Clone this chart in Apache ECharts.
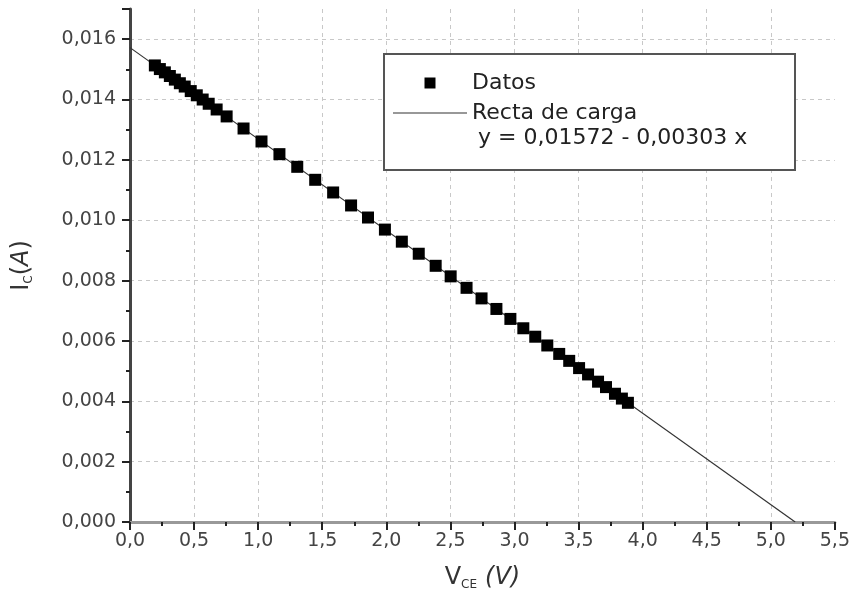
<!DOCTYPE html>
<html>
<head>
<meta charset="utf-8">
<script src="https://cdn.jsdelivr.net/npm/echarts@6/dist/echarts.min.js"></script>
<style>html,body{margin:0;padding:0;background:#fff}#c{width:853px;height:600px}</style>
</head>
<body>
<div id="c"></div>
<script>
// Measured data (V_CE in volts, I_C in amperes)
const vce = [0.194,0.233,0.272,0.311,0.350,0.389,0.427,0.474,0.521,0.567,0.614,0.676,0.754,0.886,1.026,1.166,1.305,1.445,1.585,1.725,1.857,1.989,2.121,2.253,2.385,2.502,2.626,2.743,2.859,2.968,3.069,3.162,3.256,3.349,3.427,3.504,3.574,3.652,3.714,3.784,3.838,3.885];
const ic  = [0.01513,0.01501,0.01490,0.01478,0.01466,0.01454,0.01443,0.01428,0.01414,0.01400,0.01386,0.01367,0.01344,0.01304,0.01261,0.01219,0.01177,0.01134,0.01092,0.01049,0.01009,0.00969,0.00929,0.00889,0.00849,0.00814,0.00776,0.00741,0.00706,0.00673,0.00642,0.00614,0.00585,0.00557,0.00534,0.00510,0.00489,0.00465,0.00447,0.00425,0.00409,0.00395];
// Load line (recta de carga) end points
const fitX = [0, 5.19];
const fitY = [0.01572, 0];
const seriesNames = ['Datos', 'Recta de carga'];
const equationText = 'y = 0,01572 - 0,00303 x';

const FONT = 'DejaVu Sans';
const chart = echarts.init(document.getElementById('c'));
chart.setOption({
  animation: false,
  backgroundColor: '#fff',
  grid: {left: 130, right: 15, top: 9, bottom: 78, containLabel: false},
  xAxis: {
    type: 'value', min: 0, max: 5.5, interval: 0.5,
    name: '{n|V}{s|CE}{g| }{i|(V)}', nameLocation: 'middle', nameGap: 43,
    nameTextStyle: {rich: {
      n: {fontFamily: FONT, fontSize: 24, color: '#333'},
      s: {fontFamily: FONT, fontSize: 12, color: '#333', verticalAlign: 'bottom', padding: [14,0,0,0]},
      g: {fontFamily: FONT, fontSize: 24, width: 8},
      i: {fontFamily: FONT, fontSize: 24, color: '#333', fontStyle: 'italic'}
    }},
    axisLine: {show: true, onZero: false, lineStyle: {color: '#999', width: 3}},
    axisTick: {show: true, length: 8, lineStyle: {color: '#222', width: 2}},
    minorTick: {show: true, splitNumber: 2, length: 4, lineStyle: {color: '#222', width: 2}},
    axisLabel: {fontFamily: FONT, fontSize: 19, color: '#444', margin: 10,
      formatter: v => v.toFixed(1).replace('.', ',')},
    splitLine: {show: true, showMinLine: false, showMaxLine: false, lineStyle: {color: '#c8c8c8', type: [4, 4], width: 1}}
  },
  yAxis: {
    type: 'value', min: 0, max: 0.017, interval: 0.002,
    name: '{n|I}{s|C}{n|(}{i|A}{n|)}', nameLocation: 'middle', nameGap: 95, nameRotate: 90,
    nameTextStyle: {rich: {
      n: {fontFamily: FONT, fontSize: 24, color: '#333'},
      i: {fontFamily: FONT, fontSize: 24, color: '#333', fontStyle: 'italic'},
      s: {fontFamily: FONT, fontSize: 12, color: '#333', padding: [14,0,0,0]}
    }},
    axisLine: {show: true, onZero: false, lineStyle: {color: '#444', width: 3}},
    axisTick: {show: true, length: 8, lineStyle: {color: '#222', width: 2}},
    minorTick: {show: true, splitNumber: 2, length: 4, lineStyle: {color: '#222', width: 2}},
    axisLabel: {fontFamily: FONT, fontSize: 19, color: '#444', margin: 14, showMaxLabel: false,
      formatter: v => (Math.abs(v - 0.017) < 1e-9 ? '' : v.toFixed(3).replace('.', ','))},
    splitLine: {show: true, showMinLine: false, showMaxLine: false, lineStyle: {color: '#c8c8c8', type: [4, 4], width: 1}}
  },
  legend: {
    orient: 'vertical', left: 388, top: 67, itemGap: 8,
    itemWidth: 74, itemHeight: 11, z: 20, symbolKeepAspect: true,
    data: [
      {name: seriesNames[0], icon: 'path://M0,0L10,0L10,10L0,10Z'},
      {name: seriesNames[1], icon: 'path://M0,0L74,0L74,1.2L0,1.2Z', itemStyle: {color: '#333'}}
    ],
    textStyle: {fontFamily: FONT, fontSize: 22, color: '#222', padding: [0, 0, 0, 0]}
  },
  graphic: [
    {type: 'rect', z: 10, shape: {x: 384, y: 54, width: 411, height: 116},
      style: {fill: '#fff', stroke: '#555', lineWidth: 2}},
    {type: 'text', z: 21, left: 478, top: 127,
      style: {text: equationText, font: '22px "DejaVu Sans"', fill: '#222'}}
  ],
  series: [
    {
      name: seriesNames[1], type: 'line', z: 2,
      data: fitX.map((x, i) => [x, fitY[i]]),
      showSymbol: false, symbol: 'none',
      lineStyle: {color: '#333', width: 1.2},
      itemStyle: {color: '#333'}
    },
    {
      name: seriesNames[0], type: 'scatter', z: 3,
      data: vce.map((x, i) => [x, ic[i]]),
      symbol: 'rect', symbolSize: 12,
      itemStyle: {color: '#000', opacity: 1}
    }
  ]
});
</script>
</body>
</html>
